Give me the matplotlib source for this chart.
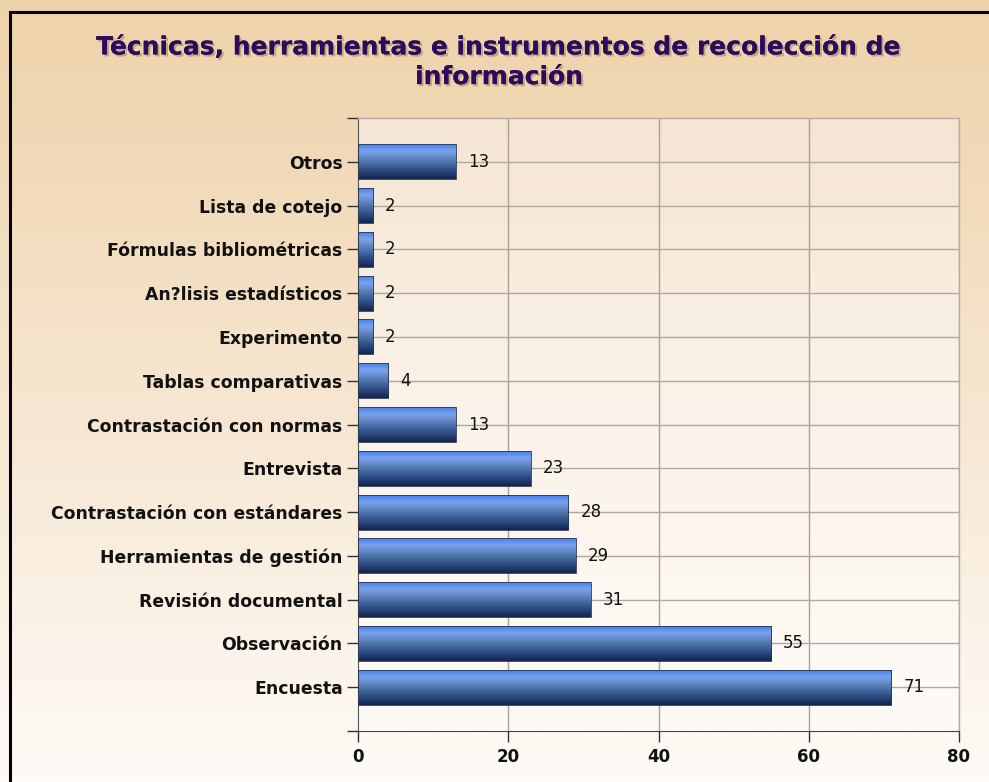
import numpy as np
import matplotlib
matplotlib.use("Agg")
import matplotlib.pyplot as plt
from matplotlib.colors import LinearSegmentedColormap
from matplotlib.patches import Rectangle
import matplotlib.patheffects as pe

categories = ["Encuesta", "Observación", "Revisión documental", "Herramientas de gestión",
              "Contrastación con estándares", "Entrevista", "Contrastación con normas",
              "Tablas comparativas", "Experimento", "An?lisis estadísticos",
              "Fórmulas bibliométricas", "Lista de cotejo", "Otros"]
values = [71, 55, 31, 29, 28, 23, 13, 4, 2, 2, 2, 2, 13]
xticks = [0, 20, 40, 60, 80]
title = "Técnicas, herramientas e instrumentos de recolección de\ninformación"

W, H = 989, 782
fig = plt.figure(figsize=(W / 100, H / 100), dpi=100)

# figure background gradient
bg = fig.add_axes([0, 0, 1, 1], zorder=-10)
bg_cmap = LinearSegmentedColormap.from_list("bg", ["#EED2A9", "#F6E5CF", "#FEFBF7"])
bg.imshow(np.linspace(0, 1, 256).reshape(-1, 1), cmap=bg_cmap, aspect="auto",
          extent=[0, 1, 0, 1], origin="upper")
bg.set_xlim(0, 1); bg.set_ylim(0, 1)
bg.axis("off")
# black border
bg.add_patch(Rectangle((10 / W, -0.1), 1.2, 1 - 12 / H + 0.1, fill=False,
                       edgecolor="black", linewidth=2.2, transform=bg.transAxes))

n = len(categories)
ylo, yhi = -1, n

# plot axes
left, right, top, bottom = 358, 959, 118, 731
ax = fig.add_axes([left / W, 1 - bottom / H, (right - left) / W, (bottom - top) / H])
ax.patch.set_alpha(0)
pa_cmap = LinearSegmentedColormap.from_list("pa", ["#F5E5D3", "#FBF3EA", "#FEFBF7"])
ax.imshow(np.linspace(0, 1, 256).reshape(-1, 1), cmap=pa_cmap, aspect="auto",
          extent=[0, 80, ylo, yhi], origin="upper", zorder=0)

# grid
for xt in xticks[1:]:
    ax.axvline(xt, color="#A8A098", linewidth=1.0, zorder=1)
for i in range(n):
    ax.axhline(i, color="#B0A89E", linewidth=1.0, zorder=1)

bar_cmap = LinearSegmentedColormap.from_list(
    "bar", [(0.0, "#3B7BEA"), (0.22, "#7BA3EE"), (0.45, "#5A80B8"),
            (0.75, "#2E4D85"), (1.0, "#14244C")])
grad = np.linspace(0, 1, 128).reshape(-1, 1)
bh = 0.8
bars = ax.barh(range(n), values, height=bh, color="none",
               edgecolor="#2A3550", linewidth=0.6, zorder=3)
for i, (b, v) in enumerate(zip(bars, values)):
    im = ax.imshow(grad, cmap=bar_cmap, aspect="auto",
                   extent=[0, v, i - bh / 2, i + bh / 2], origin="upper", zorder=2)
    im.set_clip_path(b)
    ax.text(v + 1.6, i, str(v), va="center", ha="left", fontsize=12,
            color="#111111", zorder=4)

ax.set_yticks(range(n))
ax.set_yticklabels(categories, fontsize=12.4, fontweight="bold", color="#111111")
ax.set_yticks([ylo, yhi], minor=True)
ax.set_xticks(xticks)
ax.set_xticklabels([str(x) for x in xticks], fontsize=12, fontweight="bold", color="#111111")
ax.tick_params(axis="y", which="both", length=8, width=1, color="#333333", pad=3)
ax.tick_params(axis="x", length=8, width=1, color="#333333", pad=4)
for s in ["top", "right"]:
    ax.spines[s].set_color("#B5ADA5")
    ax.spines[s].set_linewidth(1)
ax.spines["left"].set_color("#555555")
ax.spines["bottom"].set_color("#444444")
ax.set_xlim(0, 80)
ax.set_ylim(ylo, yhi)

fig.text(0.505, 1 - 62 / H, title, ha="center", va="center", fontsize=18,
         fontweight="bold", color="#2D0A5A", linespacing=1.3,
         path_effects=[pe.withSimplePatchShadow(offset=(1.5, -1.5), shadow_rgbFace="#9A8A70", alpha=0.6), pe.Normal()])

fig.savefig("out.png", dpi=100)
